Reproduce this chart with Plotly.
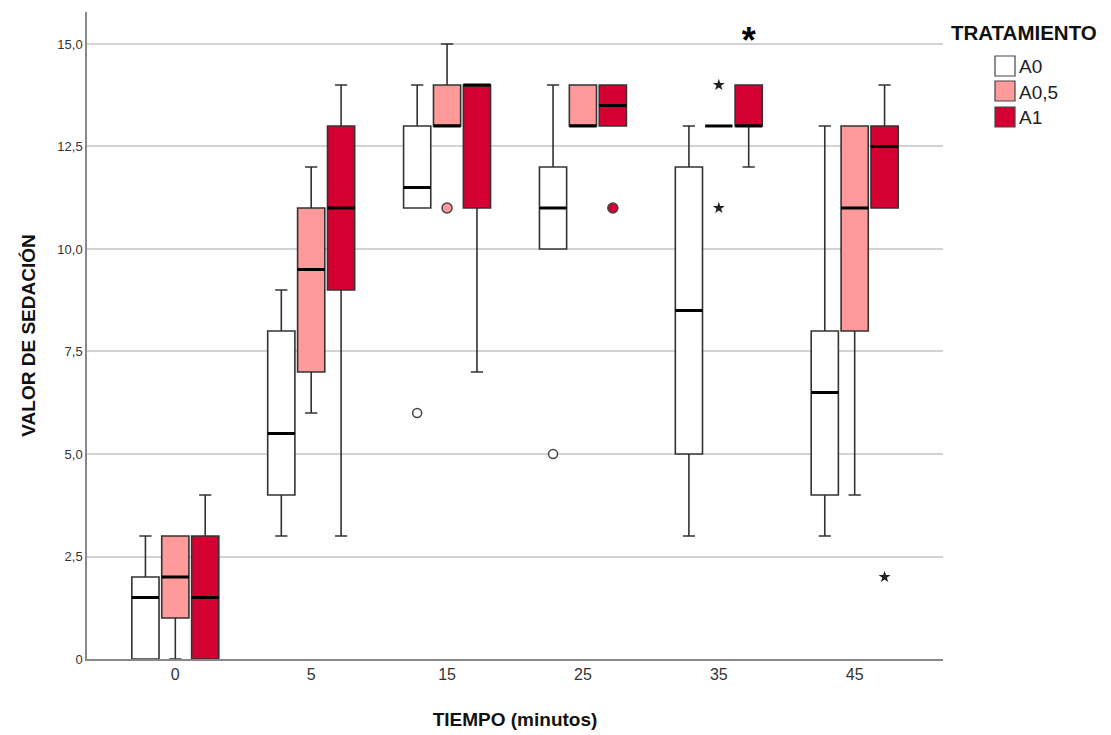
import plotly.graph_objects as go

# ---- data ----
tiempos = ["0", "5", "15", "25", "35", "45"]
tratamientos = ["A0", "A0,5", "A1"]

a0_low = [0, 3, 11, 10, 3, 3]
a0_q1 = [0, 4, 11, 10, 5, 4]
a0_med = [1.5, 5.5, 11.5, 11, 8.5, 6.5]
a0_q3 = [2, 8, 13, 12, 12, 8]
a0_high = [3, 9, 14, 14, 13, 13]

a05_low = [0, 6, 13, 13, 13, 4]
a05_q1 = [1, 7, 13, 13, 13, 8]
a05_med = [2, 9.5, 13, 13, 13, 11]
a05_q3 = [3, 11, 14, 14, 13, 13]
a05_high = [3, 12, 15, 14, 13, 13]

a1_low = [0, 3, 7, 13, 12, 11]
a1_q1 = [0, 9, 11, 13, 13, 11]
a1_med = [1.5, 11, 14, 13.5, 13, 12.5]
a1_q3 = [3, 13, 14, 14, 14, 13]
a1_high = [4, 14, 14, 14, 14, 14]

# outliers: (time index, value)
a0_out_t = [2, 3]
a0_out_v = [6, 5]
a05_out_t = [2]
a05_out_v = [11]
a1_out_t = [3]
a1_out_v = [11]
# extremes
a05_ext_t = [4, 4]
a05_ext_v = [14, 11]
a1_ext_t = [5]
a1_ext_v = [2]
a1_ext_big_t = [4]
a1_ext_big_v = [15]

ytick_vals = [0, 2.5, 5, 7.5, 10, 12.5, 15]
ytick_text = ["0", "2,5", "5,0", "7,5", "10,0", "12,5", "15,0"]

colors = ["#FFFFFF", "#FF9A9A", "#D50032"]
offsets = [-0.22, 0.0, 0.22]
BW = 0.2

series = [
    (a0_low, a0_q1, a0_med, a0_q3, a0_high),
    (a05_low, a05_q1, a05_med, a05_q3, a05_high),
    (a1_low, a1_q1, a1_med, a1_q3, a1_high),
]

fig = go.Figure()

for k, (lo, q1, med, q3, hi) in enumerate(series):
    xs = [i + offsets[k] for i in range(len(tiempos))]
    fig.add_trace(go.Box(
        x=xs, q1=q1, median=med, q3=q3, lowerfence=lo, upperfence=hi,
        width=BW, whiskerwidth=0.45, fillcolor=colors[k],
        line=dict(color="#333333", width=1.6),
        name=tratamientos[k], boxpoints=False, hoverinfo="skip",
        showlegend=False,
    ))
    mx, my = [], []
    for x, m in zip(xs, med):
        mx += [x - BW / 2, x + BW / 2, None]
        my += [m, m, None]
    fig.add_trace(go.Scatter(x=mx, y=my, mode="lines",
                             line=dict(color="#000000", width=3),
                             showlegend=False, hoverinfo="skip"))

def pts(ts, k):
    return [t + offsets[k] for t in ts]

# outliers (circles)
fig.add_trace(go.Scatter(x=pts(a0_out_t, 0), y=a0_out_v, mode="markers",
                         marker=dict(symbol="circle", size=9, color="#FFFFFF",
                                     line=dict(color="#444444", width=1.5)),
                         showlegend=False))
fig.add_trace(go.Scatter(x=pts(a05_out_t, 1), y=a05_out_v, mode="markers",
                         marker=dict(symbol="circle", size=10, color=colors[1],
                                     line=dict(color="#444444", width=1.5)),
                         showlegend=False))
fig.add_trace(go.Scatter(x=pts(a1_out_t, 2), y=a1_out_v, mode="markers",
                         marker=dict(symbol="circle", size=10, color=colors[2],
                                     line=dict(color="#444444", width=1.5)),
                         showlegend=False))
# extremes (stars)
fig.add_trace(go.Scatter(x=pts(a05_ext_t, 1), y=a05_ext_v, mode="markers",
                         marker=dict(symbol="star", size=9, color="#222222"),
                         showlegend=False))
fig.add_trace(go.Scatter(x=pts(a1_ext_t, 2), y=a1_ext_v, mode="markers",
                         marker=dict(symbol="star", size=9, color="#222222"),
                         showlegend=False))
fig.add_trace(go.Scatter(x=pts(a1_ext_big_t, 2), y=a1_ext_big_v, mode="text",
                         text=["<b>*</b>"] * len(a1_ext_big_v),
                         textposition="middle center",
                         textfont=dict(size=36, color="#000000",
                                       family="Liberation Sans, Arial, sans-serif"),
                         showlegend=False, hoverinfo="skip"))

# ---- custom legend (squares + labels) ----
PX_L, PX_W, PX_B, PX_H = 87, 856, 659, 647
def px_x(p):
    return (p - PX_L) / PX_W
def px_y(p):
    return (PX_B - p) / PX_H

shapes = []
annotations = [dict(text="<b>TRATAMIENTO</b>", x=px_x(949), y=px_y(32),
                    xref="paper", yref="paper", xanchor="left", yanchor="middle",
                    showarrow=False, font=dict(size=20.5, color="#111111"))]
leg_centers = [66, 91, 117]
for k, name in enumerate(tratamientos):
    cy = leg_centers[k]
    shapes.append(dict(type="rect", xref="paper", yref="paper",
                       x0=px_x(995), x1=px_x(1015), y0=px_y(cy + 10), y1=px_y(cy - 10),
                       fillcolor=colors[k], line=dict(color="#444444", width=1.2)))
    annotations.append(dict(text=name, x=px_x(1017), y=px_y(cy + 1),
                            xref="paper", yref="paper", xanchor="left", yanchor="middle",
                            showarrow=False, font=dict(size=19, color="#222222")))

fig.update_layout(
    width=1103, height=727,
    margin=dict(l=79, r=168, t=4, b=76),
    plot_bgcolor="#FFFFFF", paper_bgcolor="#FFFFFF",
    font=dict(family="Liberation Sans, Arial, sans-serif", color="#222222"),
    boxmode="overlay",
    showlegend=False,
    shapes=shapes,
    annotations=annotations,
)

fig.update_xaxes(
    range=[-0.65, 5.65],
    tickvals=list(range(len(tiempos))), ticktext=tiempos,
    showgrid=False, zeroline=False, ticks="",
    showline=True, linecolor="#888888", linewidth=1.5,
    tickfont=dict(size=16, color="#333333"),
    title=dict(text="<b>TIEMPO (minutos)</b>", font=dict(size=19, color="#111111"), standoff=31),
)
fig.update_yaxes(
    range=[0, 15.78],
    tickvals=ytick_vals, ticktext=ytick_text,
    showgrid=True, gridcolor="#D3D3D3", gridwidth=2,
    zeroline=False, ticks="",
    showline=True, linecolor="#888888", linewidth=1.5,
    tickfont=dict(size=13, color="#333333"),
    title=dict(text="<b>VALOR DE SEDACIÓN</b>", font=dict(size=19, color="#111111"), standoff=17),
)

fig.write_html("out.html")
